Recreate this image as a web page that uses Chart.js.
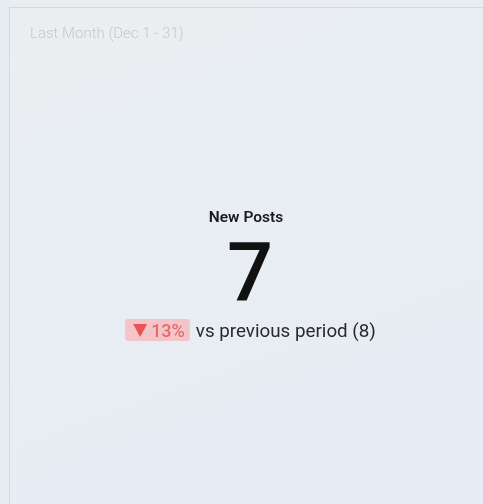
<!DOCTYPE html>
<html>
<head>
<meta charset="utf-8">
<script src="https://cdn.jsdelivr.net/npm/chart.js@4"></script>
<style>
  html, body { margin: 0; padding: 0; background: #e8edf1; overflow: hidden; }
  #card {
    position: absolute; left: 9px; top: 7px; width: 480px; height: 500px;
    border-left: 1px solid #d3d8de; border-top: 1px solid #d3d8de;
    background: linear-gradient(160deg, #ebeef1 0%, #e9eef3 35%, #e5ecf4 100%);
  }
  #wrap { position: absolute; left: 0; top: 0; width: 483px; height: 504px; }
</style>
</head>
<body>
<div id="card"></div>
<div id="wrap"><canvas id="myChart"></canvas></div>
<script>
var ctx = document.getElementById('myChart').getContext('2d');

var periods = ['Current', 'Previous'];
var postCounts = [7, 8];
var metricName = 'New Posts';
var rangeLabel = 'Last Month (Dec 1 - 31)';

// draws the KPI number and comparison in the middle
var kpiPlugin = {
    id: 'kpi',
    afterDraw: function (chart) {
        var c = chart.ctx;
        var data = chart.data.datasets[0].data;
        var cur = data[0], prev = data[1];
        var change = Math.round(Math.abs(cur - prev) / prev * 100);
        var cx = 246;
        c.save();
        c.textAlign = 'center';
        c.textBaseline = 'alphabetic';
        c.fillStyle = '#1a1a1a';
        c.font = '600 15.5px Roboto';
        c.fillText(metricName, cx, 222);
        c.fillStyle = '#111';
        c.font = '500 81px Roboto';
        c.fillText(String(cur), 250, 300);

        // badge + comparison text
        var pctText = change + '%';
        c.font = '500 18px Roboto';
        var pctW = c.measureText(pctText).width;
        var vsText = 'vs previous period (' + prev + ')';
        c.font = '400 18.8px Roboto';
        var vsW = c.measureText(vsText).width;
        var badgeW = 8 + 14 + 4 + pctW + 5;
        var total = badgeW + 6 + vsW;
        var x0 = 250.5 - total / 2;
        c.fillStyle = '#f3c5c9';
        c.beginPath();
        c.roundRect(x0, 319, badgeW, 22, 3);
        c.fill();
        c.fillStyle = '#ea5356';
        c.beginPath();
        c.moveTo(x0 + 8, 324);
        c.lineTo(x0 + 22, 324);
        c.lineTo(x0 + 15, 337);
        c.closePath();
        c.fill();
        c.fillStyle = '#e9686a';
        c.font = '500 18px Roboto';
        c.textAlign = 'left';
        c.fillText(pctText, x0 + 26, 337);
        c.fillStyle = '#2a2a2a';
        c.font = '400 18.8px Roboto';
        c.fillText(vsText, x0 + badgeW + 6, 337);
        c.restore();
    }
};

var myChart = new Chart(ctx, {
    type: 'bar',
    data: {
        labels: periods,
        datasets: [{
            label: metricName,
            data: postCounts,
            backgroundColor: 'rgba(0,0,0,0)',
            borderWidth: 0
        }]
    },
    options: {
        responsive: true,
        maintainAspectRatio: false,
        animation: false,
        layout: { padding: { left: 30, top: 25 } },
        scales: { x: { display: false }, y: { display: false } },
        plugins: {
            legend: { display: false },
            tooltip: { enabled: false },
            title: {
                display: true,
                text: rangeLabel,
                align: 'start',
                color: '#c4c9cf',
                font: { family: 'Roboto', size: 15, weight: '300' },
                padding: 0
            }
        }
    },
    plugins: [kpiPlugin]
});
</script>
</body>
</html>
